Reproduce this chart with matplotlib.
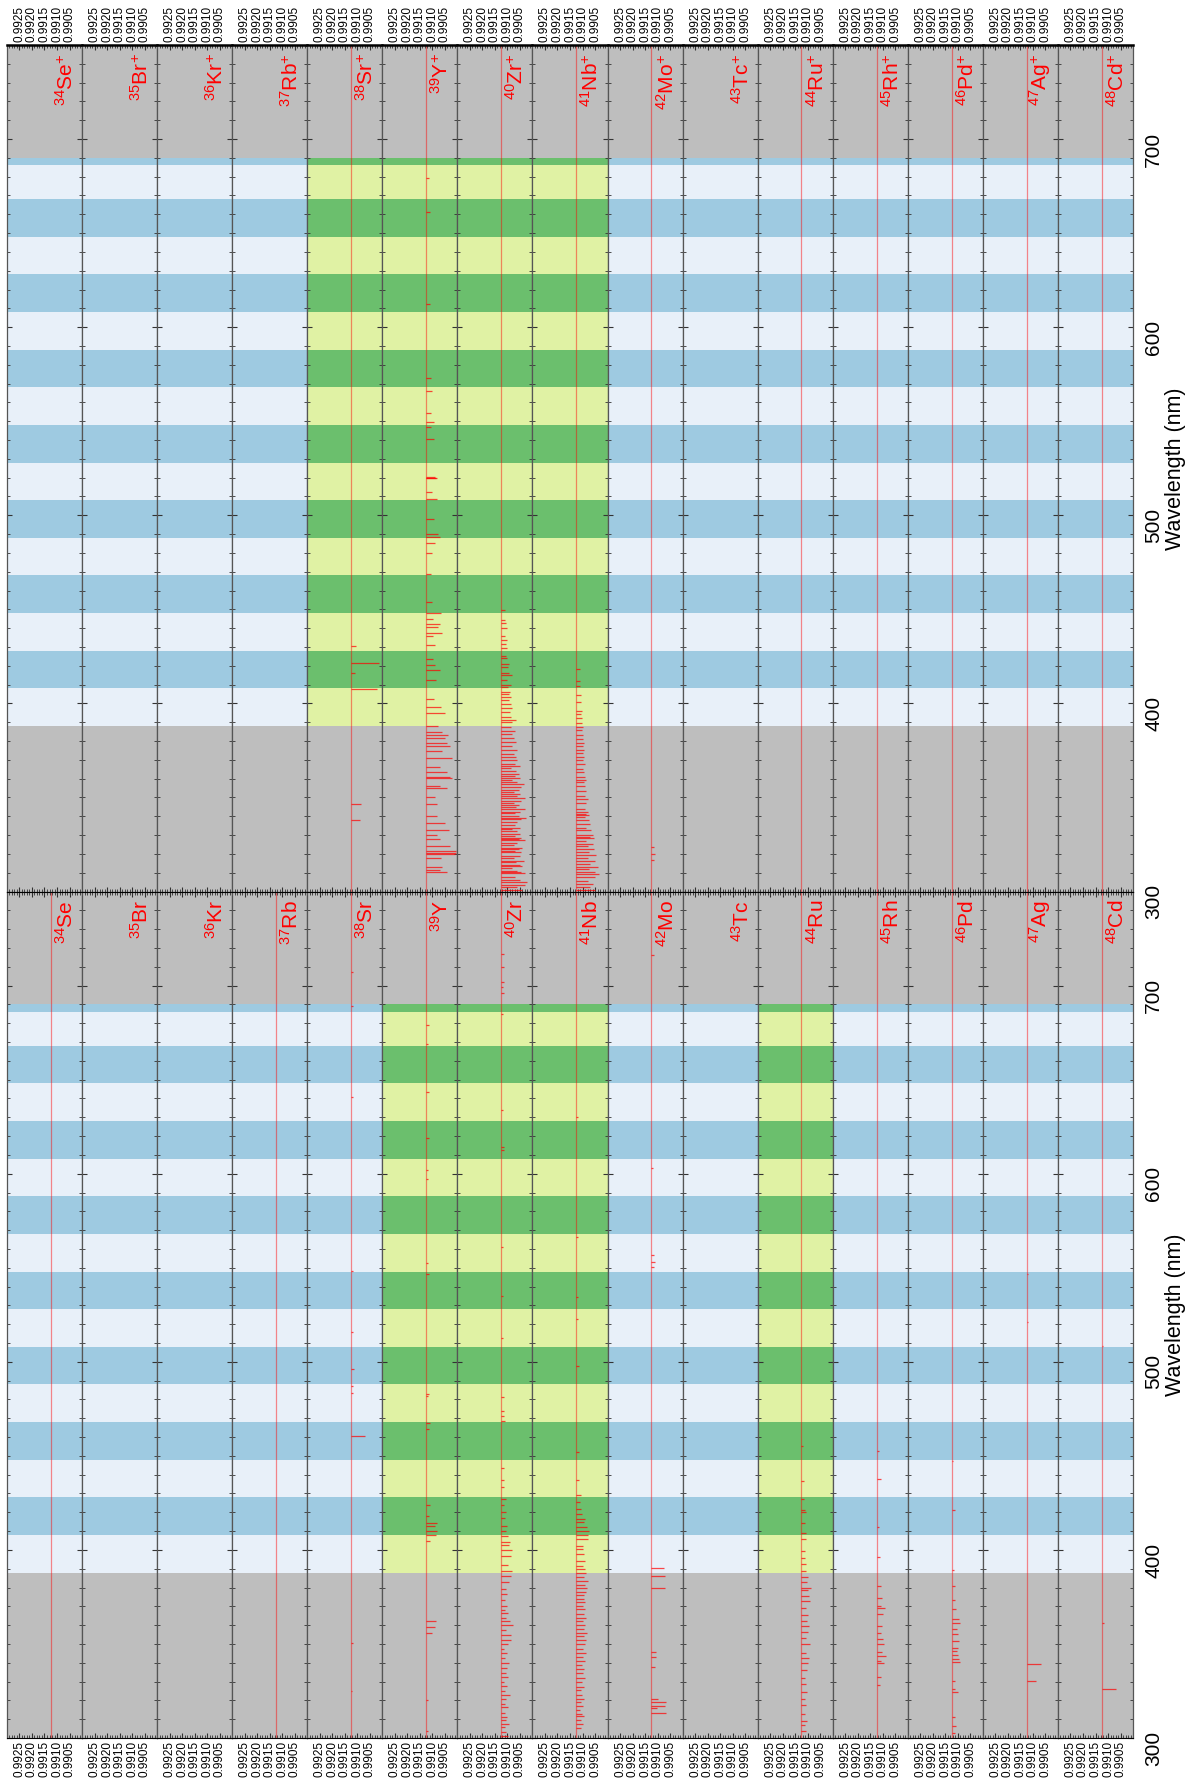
import matplotlib
matplotlib.use('Agg')
import matplotlib.pyplot as plt
from matplotlib.ticker import FixedLocator, MultipleLocator, FormatStrFormatter

plt.rcParams['font.family'] = ['Liberation Sans', 'DejaVu Sans']
plt.rcParams['mathtext.fontset'] = 'custom'
plt.rcParams['mathtext.rm'] = 'Liberation Sans'
plt.rcParams['mathtext.it'] = 'Liberation Sans:italic'

# elements (one column each)
elements = ['Se', 'Br', 'Kr', 'Rb', 'Sr', 'Y', 'Zr', 'Nb', 'Mo', 'Tc', 'Ru', 'Rh', 'Pd', 'Ag', 'Cd']
atomic_numbers = [34, 35, 36, 37, 38, 39, 40, 41, 42, 43, 44, 45, 46, 47, 48]

baseline = 0.99125
x_ticks = [0.9925, 0.9920, 0.9915, 0.9910, 0.9905]

# filter bands (nm), alternating light / dark
band_edges = [388, 408, 428, 448, 468, 488, 508, 528, 548, 568, 588, 608, 628, 648, 668, 686, 690]

neutral_present = ['Se', 'Rb', 'Sr', 'Y', 'Zr', 'Nb', 'Mo', 'Ru', 'Rh', 'Pd', 'Ag', 'Cd']
ion_present = ['Sr', 'Y', 'Zr', 'Nb', 'Mo', 'Ru', 'Rh', 'Pd', 'Ag', 'Cd']
neutral_highlight = ['Y', 'Zr', 'Nb', 'Ru']
ion_highlight = ['Sr', 'Y', 'Zr', 'Nb']

# spectral lines: (wavelength nm, tip value)
Sr_I = [(325.0, 0.99120), (350.4, 0.99119), (460.7, 0.99070), (483.2, 0.99117), (487.2, 0.99118),
        (496.2, 0.99115), (515.6, 0.99118), (548.1, 0.99117), (640.8, 0.99116), (689.3, 0.99119),
        (707.0, 0.99117)]
Y_I = [(304.0, 0.99116), (320.0, 0.99116), (355.8, 0.99102), (359.2, 0.99088), (362.1, 0.99084),
       (404.8, 0.99110), (407.7, 0.99084), (410.2, 0.99080), (412.8, 0.99088), (414.3, 0.99082),
       (417.8, 0.99112), (424.0, 0.99110), (464.4, 0.99112), (467.5, 0.99110), (481.7, 0.99116),
       (482.7, 0.99114), (546.6, 0.99115), (552.7, 0.99117), (597.1, 0.99117), (601.9, 0.99117),
       (619.1, 0.99113), (643.5, 0.99115), (668.8, 0.99117), (679.3, 0.99114)]
Zr_I = [(301.2, 0.99098), (303.0, 0.99104), (306.0, 0.99110), (307.3, 0.99092), (309.8, 0.99106),
        (311.0, 0.99100), (313.3, 0.99108), (316.4, 0.99096), (318.1, 0.99110), (320.7, 0.99104),
        (323.0, 0.99090), (325.1, 0.99108), (327.9, 0.99100), (330.0, 0.99112), (332.4, 0.99096),
        (334.7, 0.99106), (337.4, 0.99100), (339.7, 0.99094), (342.7, 0.99108), (345.0, 0.99102),
        (347.3, 0.99112), (349.9, 0.99098), (351.9, 0.99086), (354.7, 0.99084), (357.7, 0.99104),
        (360.1, 0.99076), (362.4, 0.99090), (364.0, 0.99106), (366.3, 0.99096), (368.0, 0.99110),
        (370.3, 0.99102), (373.2, 0.99108), (376.5, 0.99100), (379.0, 0.99104), (382.9, 0.99092),
        (386.4, 0.99084), (389.0, 0.99080), (392.1, 0.99096), (396.8, 0.99086), (399.7, 0.99082),
        (402.4, 0.99094), (404.4, 0.99088), (407.2, 0.99098), (410.0, 0.99104), (412.8, 0.99100),
        (416.9, 0.99108), (420.1, 0.99106), (423.9, 0.99112), (427.2, 0.99104), (433.6, 0.99114),
        (437.0, 0.99112), (443.7, 0.99114), (468.8, 0.99110), (471.0, 0.99112), (473.9, 0.99112),
        (481.5, 0.99114), (512.9, 0.99116), (535.0, 0.99117), (561.0, 0.99117), (612.7, 0.99113),
        (614.3, 0.99113), (633.9, 0.99118), (685.0, 0.99116), (696.0, 0.99114), (699.0, 0.99116),
        (702.0, 0.99114), (709.7, 0.99114), (717.0, 0.99115)]
Nb_I = [(305.5, 0.99106), (307.7, 0.99100), (309.8, 0.99108), (311.7, 0.99096), (313.0, 0.99104),
        (315.0, 0.99110), (317.1, 0.99098), (319.0, 0.99106), (320.9, 0.99094), (323.0, 0.99102),
        (325.5, 0.99108), (327.3, 0.99096), (329.7, 0.99104), (332.0, 0.99092), (334.4, 0.99100),
        (336.6, 0.99096), (338.9, 0.99104), (341.0, 0.99090), (343.2, 0.99098), (345.4, 0.99086),
        (347.6, 0.99100), (349.9, 0.99092), (352.0, 0.99088), (354.1, 0.99096), (356.0, 0.99084),
        (358.0, 0.99094), (359.9, 0.99090), (362.0, 0.99098), (364.0, 0.99088), (366.2, 0.99096),
        (368.5, 0.99092), (370.2, 0.99100), (372.1, 0.99090), (373.9, 0.99096), (375.8, 0.99094),
        (377.7, 0.99088), (379.9, 0.99084), (381.6, 0.99090), (383.4, 0.99080), (385.7, 0.99094),
        (387.5, 0.99086), (389.6, 0.99092), (391.5, 0.99098), (394.2, 0.99090), (397.8, 0.99094),
        (400.4, 0.99098), (402.2, 0.99100), (405.9, 0.99080), (408.0, 0.99078), (410.1, 0.99074),
        (412.4, 0.99082), (414.9, 0.99096), (416.4, 0.99090), (419.1, 0.99104), (422.0, 0.99106),
        (425.3, 0.99110), (429.0, 0.99108), (437.0, 0.99114), (452.3, 0.99116), (498.0, 0.99116),
        (523.0, 0.99118), (534.4, 0.99117), (566.5, 0.99118), (630.0, 0.99118)]
Mo_I = [(313.3, 0.99068), (315.8, 0.99104), (317.0, 0.99070), (319.4, 0.99066), (320.9, 0.99100),
        (337.8, 0.99112), (343.0, 0.99108), (345.7, 0.99106), (379.8, 0.99071), (386.4, 0.99071),
        (390.3, 0.99073), (550.6, 0.99114), (553.3, 0.99112), (557.0, 0.99114), (603.0, 0.99118),
        (716.0, 0.99116)]
Ru_I = [(303.7, 0.99108), (306.7, 0.99112), (309.3, 0.99104), (312.8, 0.99110), (317.5, 0.99106),
        (321.0, 0.99112), (324.4, 0.99104), (328.5, 0.99108), (332.0, 0.99112), (336.0, 0.99104),
        (339.8, 0.99098), (342.8, 0.99096), (345.2, 0.99108), (349.9, 0.99092), (353.0, 0.99106),
        (356.5, 0.99100), (359.6, 0.99096), (362.0, 0.99104), (365.4, 0.99100), (369.0, 0.99106),
        (372.8, 0.99090), (375.5, 0.99094), (378.6, 0.99100), (379.9, 0.99088), (382.7, 0.99104),
        (385.6, 0.99100), (389.0, 0.99108), (392.3, 0.99106), (395.5, 0.99110), (399.2, 0.99112),
        (405.6, 0.99106), (409.0, 0.99108), (414.5, 0.99112), (419.9, 0.99108), (421.2, 0.99110),
        (426.9, 0.99116), (436.6, 0.99114), (455.4, 0.99118)]
Rh_I = [(328.1, 0.99110), (332.3, 0.99108), (339.7, 0.99094), (341.2, 0.99108), (343.5, 0.99088),
        (346.0, 0.99104), (350.2, 0.99096), (352.8, 0.99100), (355.9, 0.99108), (359.6, 0.99104),
        (365.8, 0.99098), (369.2, 0.99092), (370.1, 0.99108), (374.4, 0.99104), (380.6, 0.99108),
        (396.1, 0.99112), (412.2, 0.99114), (437.5, 0.99106), (452.8, 0.99117)]
Pd_I = [(302.8, 0.99110), (306.5, 0.99108), (311.4, 0.99110), (324.3, 0.99100), (325.9, 0.99110),
        (330.2, 0.99112), (340.5, 0.99092), (342.1, 0.99096), (344.1, 0.99098), (346.1, 0.99102),
        (348.1, 0.99100), (351.7, 0.99094), (355.3, 0.99098), (358.2, 0.99104), (360.9, 0.99090),
        (363.5, 0.99094), (368.5, 0.99108), (373.4, 0.99110), (380.6, 0.99110), (389.4, 0.99114),
        (421.3, 0.99112), (447.3, 0.99118)]
Ag_I = [(330.5, 0.99088), (339.5, 0.99068), (520.9, 0.99120), (546.5, 0.99120)]
Cd_I = [(326.1, 0.99068), (361.0, 0.99118), (508.6, 0.99120)]

Sr_II = [(338.1, 0.99090), (346.4, 0.99086), (407.8, 0.99022), (416.2, 0.99110), (421.6, 0.99012),
         (430.5, 0.99104)]
Y_II = [(310.5, 0.99040), (311.2, 0.99070), (312.8, 0.99060), (317.9, 0.99066), (320.0, 0.99010),
        (320.3, 0.99004), (321.7, 0.99006), (324.2, 0.99030), (327.9, 0.99070), (330.0, 0.99082),
        (332.8, 0.99034), (336.2, 0.99050), (340.0, 0.99080), (346.7, 0.99082), (350.0, 0.99090),
        (354.9, 0.99040), (356.0, 0.99070), (360.1, 0.99020), (361.1, 0.99030), (363.3, 0.99040),
        (366.4, 0.99070), (371.0, 0.99020), (374.8, 0.99060), (377.4, 0.99030), (378.9, 0.99040),
        (381.8, 0.99050), (383.3, 0.99036), (385.0, 0.99060), (387.8, 0.99076), (395.0, 0.99050),
        (398.3, 0.99066), (402.2, 0.99094), (412.4, 0.99086), (417.7, 0.99070), (420.4, 0.99090),
        (423.5, 0.99096), (430.9, 0.99090), (435.8, 0.99096), (437.5, 0.99060), (440.8, 0.99078),
        (442.3, 0.99070), (445.1, 0.99096), (448.3, 0.99066), (454.0, 0.99100), (469.0, 0.99104),
        (480.0, 0.99100), (485.5, 0.99088), (488.4, 0.99070), (490.0, 0.99076), (498.2, 0.99092),
        (508.7, 0.99080), (512.3, 0.99100), (519.6, 0.99086), (520.0, 0.99082), (520.5, 0.99090),
        (540.3, 0.99094), (546.9, 0.99104), (549.7, 0.99092), (554.4, 0.99104), (566.3, 0.99102),
        (572.9, 0.99106), (612.3, 0.99110), (661.4, 0.99110), (679.5, 0.99114)]
Zr_II = [(300.6, 0.99040), (302.2, 0.99060), (303.4, 0.99030), (305.3, 0.99020), (306.2, 0.99050),
         (307.8, 0.99070), (309.6, 0.99030), (310.6, 0.99045), (311.0, 0.99060), (312.5, 0.99080),
         (313.7, 0.99040), (314.3, 0.99050), (315.5, 0.99065), (316.3, 0.99035), (317.6, 0.99075),
         (318.8, 0.99050), (320.9, 0.99045), (321.4, 0.99070), (322.4, 0.99055), (323.1, 0.99040),
         (324.5, 0.99075), (325.8, 0.99060), (327.3, 0.99030), (327.9, 0.99055), (328.4, 0.99045),
         (329.6, 0.99070), (330.6, 0.99050), (332.2, 0.99060), (333.4, 0.99080), (334.0, 0.99050),
         (335.6, 0.99070), (337.0, 0.99060), (338.4, 0.99045), (339.2, 0.99025), (340.3, 0.99055),
         (341.6, 0.99070), (342.3, 0.99050), (343.8, 0.99030), (345.0, 0.99065), (345.9, 0.99055),
         (347.2, 0.99075), (348.1, 0.99045), (349.6, 0.99030), (350.6, 0.99060), (351.9, 0.99050),
         (353.0, 0.99075), (354.1, 0.99055), (355.7, 0.99045), (357.2, 0.99035), (358.3, 0.99060),
         (359.4, 0.99080), (360.5, 0.99050), (361.6, 0.99070), (362.5, 0.99055), (364.2, 0.99065),
         (365.5, 0.99085), (366.5, 0.99050), (368.0, 0.99070), (369.8, 0.99060), (371.4, 0.99065),
         (373.2, 0.99075), (375.0, 0.99060), (377.1, 0.99080), (379.5, 0.99065), (381.6, 0.99075),
         (383.6, 0.99080), (385.5, 0.99070), (387.7, 0.99085), (389.9, 0.99080), (391.4, 0.99065),
         (392.8, 0.99085), (395.6, 0.99090), (397.6, 0.99080), (399.9, 0.99085), (401.8, 0.99095),
         (403.5, 0.99085), (404.9, 0.99095), (406.2, 0.99090), (408.9, 0.99098), (410.0, 0.99085),
         (412.4, 0.99100), (414.9, 0.99080), (416.1, 0.99095), (419.1, 0.99098), (420.9, 0.99092),
         (424.0, 0.99100), (425.2, 0.99104), (429.6, 0.99100), (431.4, 0.99106), (433.9, 0.99102),
         (436.0, 0.99108), (440.2, 0.99100), (442.8, 0.99106), (444.3, 0.99110), (449.6, 0.99108)]
Nb_II = [(300.8, 0.99050), (302.5, 0.99070), (304.1, 0.99060), (305.8, 0.99080), (307.5, 0.99050),
         (309.4, 0.99035), (310.2, 0.99050), (311.9, 0.99075), (313.1, 0.99040), (314.6, 0.99070),
         (316.3, 0.99050), (318.0, 0.99080), (319.5, 0.99045), (321.0, 0.99075), (322.5, 0.99055),
         (324.0, 0.99080), (325.4, 0.99060), (327.0, 0.99085), (328.6, 0.99055), (329.2, 0.99070),
         (330.3, 0.99060), (332.5, 0.99065), (334.0, 0.99085), (335.8, 0.99070), (337.9, 0.99075),
         (339.5, 0.99090), (340.9, 0.99075), (341.4, 0.99085), (342.5, 0.99080), (344.0, 0.99090),
         (346.9, 0.99085), (349.0, 0.99080), (350.8, 0.99090), (353.5, 0.99085), (356.3, 0.99090),
         (358.0, 0.99095), (359.4, 0.99088), (361.1, 0.99092), (363.5, 0.99095), (365.0, 0.99100),
         (367.6, 0.99092), (369.7, 0.99098), (371.3, 0.99095), (373.8, 0.99100), (375.1, 0.99096),
         (377.4, 0.99100), (379.1, 0.99094), (381.3, 0.99100), (383.4, 0.99098), (386.0, 0.99104),
         (387.6, 0.99100), (389.4, 0.99104), (392.0, 0.99102), (394.6, 0.99106), (396.0, 0.99104),
         (400.8, 0.99108), (404.6, 0.99106), (409.5, 0.99110), (412.1, 0.99110), (418.5, 0.99112)]
Mo_II = [(317.0, 0.99114), (320.0, 0.99112), (323.4, 0.99116)]

neutral_lines = {'Sr': Sr_I, 'Y': Y_I, 'Zr': Zr_I, 'Nb': Nb_I, 'Mo': Mo_I, 'Ru': Ru_I,
                 'Rh': Rh_I, 'Pd': Pd_I, 'Ag': Ag_I, 'Cd': Cd_I}
ion_lines = {'Sr': Sr_II, 'Y': Y_II, 'Zr': Zr_II, 'Nb': Nb_II, 'Mo': Mo_II}

# colours
gray = '#bebebe'
blue_light, blue_dark = '#e8f0f9', '#9ecae1'
green_light, green_dark = '#e0f2a4', '#6bbf6d'

fig = plt.figure(figsize=(12, 17.85), dpi=100)
gs = fig.add_gridspec(2, 15, left=0.0058, right=0.9442, top=0.9748, bottom=0.0263,
                      hspace=0, wspace=0)

rows = [('$^{+}$', ion_lines, ion_present, ion_highlight),
        ('', neutral_lines, neutral_present, neutral_highlight)]

for r, (charge, lines_map, present, highlight) in enumerate(rows):
    for k, el in enumerate(elements):
        ax = fig.add_subplot(gs[r, k])
        ax.set_facecolor(gray)
        if el in highlight:
            cl, cd = green_light, green_dark
        else:
            cl, cd = blue_light, blue_dark
        for i in range(len(band_edges) - 1):
            ax.axhspan(band_edges[i], band_edges[i + 1], color=cl if i % 2 == 0 else cd,
                       lw=0, zorder=0)

        if el in present:
            ax.axvline(baseline, color='red', alpha=0.45, lw=0.9, zorder=2)
        data = lines_map.get(el, [])
        if data:
            wl = [d[0] for d in data]
            tip = [d[1] for d in data]
            ax.hlines(wl, tip, baseline, color='red', alpha=0.7, lw=0.9, zorder=3)

        ax.text(0.93, 0.99, '$^{%d}$%s%s' % (atomic_numbers[k], el, charge), color='red',
                fontsize=15, rotation=90, ha='right', va='top', transform=ax.transAxes)

        ax.set_xlim(0.9930, 0.9900)
        ax.set_ylim(300, 750)
        ax.xaxis.set_major_locator(FixedLocator(x_ticks))
        ax.xaxis.set_major_formatter(FormatStrFormatter('%.4f'))
        ax.xaxis.set_minor_locator(MultipleLocator(0.0001))
        ax.yaxis.set_major_locator(MultipleLocator(100))
        ax.yaxis.set_minor_locator(MultipleLocator(10))
        ax.tick_params(which='both', direction='in', top=True, bottom=True, left=True, right=True,
                       color='#333333')
        ax.tick_params(which='major', length=3.5, width=0.8)
        ax.tick_params(which='minor', length=2, width=0.6)
        ax.tick_params(axis='y', labelleft=False)
        if r == 0:
            ax.tick_params(axis='x', labeltop=True, labelbottom=False, labelrotation=90,
                           labelsize=8.5, pad=2)
            ax.spines['top'].set_linewidth(1.8)
            ax.spines['top'].set_color('black')
        else:
            ax.tick_params(axis='x', labeltop=False, labelbottom=True, labelrotation=90,
                           labelsize=8.5, pad=2)
        for s in ['left', 'right']:
            ax.spines[s].set_color('#555555')
            ax.spines[s].set_linewidth(0.9)

        if k == len(elements) - 1:
            ax.tick_params(axis='y', labelright=True, labelrotation=90, labelsize=15, pad=8)
            ax.yaxis.set_label_position('right')
            ax.set_ylabel('Wavelength (nm)', fontsize=15.5, labelpad=1)

fig.savefig('out.png', dpi=100)
